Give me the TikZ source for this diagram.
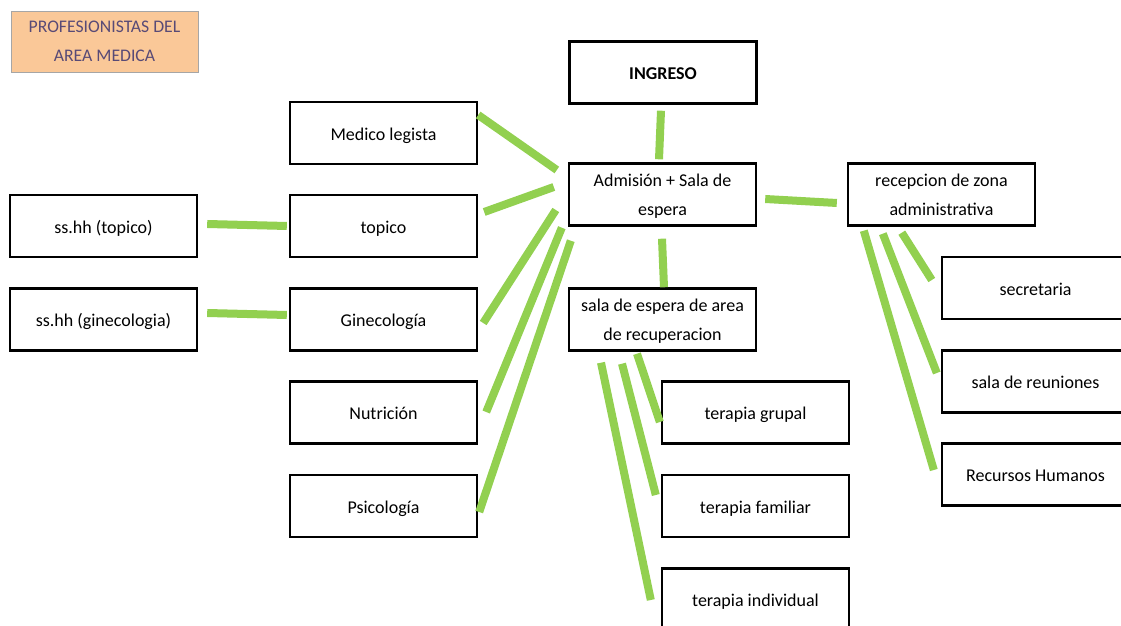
\documentclass[tikz,border=0pt]{standalone}
\usepackage{fontspec}
\setmainfont{Carlito}
\usetikzlibrary{positioning,calc}
\definecolor{linkgreen}{RGB}{146,208,80}
\definecolor{peach}{RGB}{250,200,152}
\definecolor{titletext}{RGB}{88,74,118}

\begin{document}
\begin{tikzpicture}[
  x=1pt, y=1pt,
  areabox/.style={draw, line width=2.4pt, minimum width=187pt, minimum height=62pt, inner sep=0pt, align=center, text height=19pt, text depth=4pt, font=\fontsize{18}{29}\selectfont},
  twoline/.style={text height={}, text depth=-4pt},
  titlebox/.style={draw=gray!70, line width=0.8pt, fill=peach, minimum width=187pt, minimum height=61pt, inner sep=0pt, align=center, text depth=-4pt, text=titletext, font=\fontsize{17.7}{29}\selectfont},
  link/.style={draw=linkgreen, line width=8pt}
]
\useasboundingbox (0,0) rectangle (1121,626);

\node[titlebox] (titulo) at (104.5,584.5) {PROFESIONISTAS DEL\\AREA MEDICA};

% centro
\node[areabox, font=\fontsize{18}{29}\selectfont\bfseries] (ingreso) at (663,553.5) {INGRESO};
\node[areabox, twoline] (adm) at (662.5,431.5) {Admisión + Sala de\\espera};
\node[areabox, twoline] (recup) at (662.5,306.5) {sala de espera de area\\de recuperacion};
\node[areabox, twoline] (recep) at (941.5,431.5) {recepcion de zona\\administrativa};

% area medica
\node[areabox] (medico) at (383.5,493) {Medico legista};
\node[areabox] (topico) at (383.5,400) {topico};
\node[areabox] (gine) at (383.5,306.5) {Ginecología};
\node[areabox] (nutri) at (383.5,213.5) {Nutrición};
\node[areabox] (psico) at (383.5,120) {Psicología};
\node[areabox] (sstop) at (103.5,400) {ss.hh (topico)};
\node[areabox] (ssgin) at (103.5,306.5) {ss.hh (ginecologia)};

% administracion
\node[areabox] (secre) at (1035.5,338) {secretaria};
\node[areabox] (reun) at (1035.5,244.5) {sala de reuniones};
\node[areabox] (rrhh) at (1035.5,151.5) {Recursos Humanos};

% terapias
\node[areabox] (grupal) at (755.5,213.5) {terapia grupal};
\node[areabox] (familiar) at (755.5,120) {terapia familiar};
\node[areabox] (individual) at (755.5,26.5) {terapia individual};

% conexiones
\draw[link] ($(ingreso.south)+(-2,-6)$) -- ($(adm.north)+(-3.5,3)$);
\draw[link] ($(adm.south)+(-0.5,-12)$) -- ($(recup.north)+(1.5,0)$);
\draw[link] ($(adm.east)+(8,-4.5)$) -- ($(recep.west)+(-10,-8.5)$);
\draw[link] ($(medico.east)+(0,18)$) -- ($(adm.west)+(-11,24.5)$);
\draw[link] ($(topico.east)+(6,14)$) -- ($(adm.west)+(-14,7.5)$);
\draw[link] ($(gine.east)+(5,-3.5)$) -- ($(adm.west)+(-12,-15.5)$);
\draw[link] ($(nutri.east)+(8,0.5)$) -- ($(adm.south west)+(-6,-1)$);
\draw[link] ($(psico.east)+(1,-6)$) -- ($(adm.south west)+(3,-14)$);
\draw[link] ($(sstop.east)+(9,2)$) -- ($(topico.west)+(-2,0)$);
\draw[link] ($(ssgin.east)+(9,6.5)$) -- ($(gine.west)+(-2,4.5)$);
\draw[link] ($(recep.south west)+(55,-6)$) -- ($(secre.west)+(-9,8)$);
\draw[link] ($(recep.south west)+(36,-7)$) -- ($(reun.west)+(-4,8.5)$);
\draw[link] ($(recep.south west)+(17,-4)$) -- ($(rrhh.west)+(-7,4.5)$);
\draw[link] ($(recup.south)+(-25.5,-2)$) -- ($(grupal.west)+(-1,-9.5)$);
\draw[link] ($(recup.south)+(-40.5,-12)$) -- ($(familiar.west)+(-5,11)$);
\draw[link] ($(recup.south)+(-61.5,-11)$) -- ($(individual.west)+(-10,-0.5)$);
\end{tikzpicture}
\end{document}
